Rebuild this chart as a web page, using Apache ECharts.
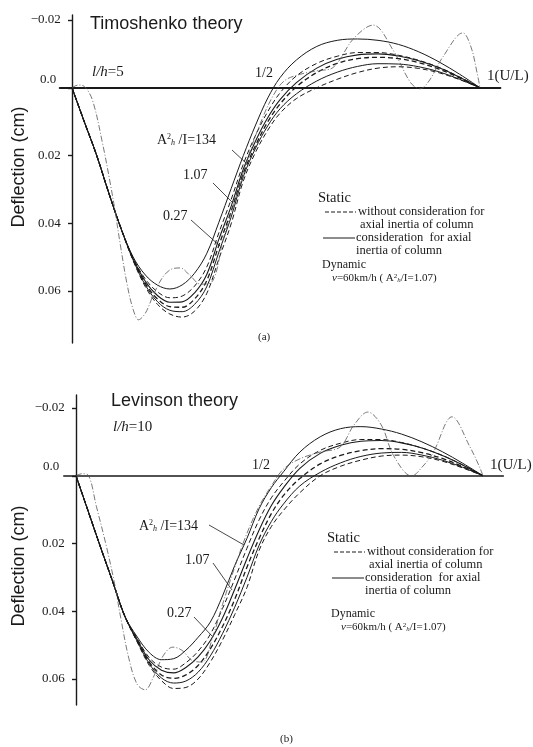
<!DOCTYPE html>
<html><head><meta charset="utf-8">
<script src="https://cdn.jsdelivr.net/npm/echarts@6/dist/echarts.min.js"></script>
<style>html,body{margin:0;padding:0;background:#fff}#c{width:533px;height:747px}</style>
</head><body><div id="c"></div><script>
// ---------- DATA ----------
const xStatic = [0,0.03,0.06,0.09,0.12,0.15,0.18,0.21,0.24,0.27,0.30,0.33,0.36,0.39,0.42,0.45,0.48,0.51,0.55,0.60,0.65,0.70,0.75,0.80,0.85,0.90,0.95,1.0];
const yTicks = [-0.02, 0, 0.02, 0.04, 0.06];

// (a) Timoshenko theory, l/h = 5
const timo134With    = [0,0.010,0.0198,0.031,0.0415, 0.0500,0.0553,0.0583,0.0594,0.0582,0.0548,0.0490,0.0397,0.0298,0.0200,0.0110,0.0030,-0.0030,-0.0082,-0.0122,-0.0140,-0.0144,-0.0140,-0.0128,-0.0106,-0.0076,-0.0040,0];
const timo134Without = [0,0.010,0.0198,0.031,0.0415, 0.0503,0.0565,0.0603,0.0620,0.0615,0.0586,0.0530,0.0428,0.0330,0.0225,0.0140,0.0070,0.0015,-0.0035,-0.0072,-0.0093,-0.0104,-0.0104,-0.0096,-0.0081,-0.0060,-0.0032,0];
const timo107With    = [0,0.010,0.0198,0.031,0.0415, 0.0505,0.0572,0.0614,0.0633,0.0632,0.0606,0.0552,0.0447,0.0350,0.0240,0.0157,0.0088,0.0035,-0.0015,-0.0058,-0.0084,-0.0097,-0.0100,-0.0094,-0.0080,-0.0059,-0.0031,0];
const timo107Without = [0,0.010,0.0198,0.031,0.0415, 0.0507,0.0578,0.0624,0.0646,0.0648,0.0624,0.0570,0.0465,0.0365,0.0252,0.0170,0.0100,0.0048,-0.0003,-0.0045,-0.0072,-0.0086,-0.0090,-0.0086,-0.0074,-0.0055,-0.0029,0];
const timo027With    = [0,0.010,0.0198,0.031,0.0415, 0.0509,0.0583,0.0632,0.0657,0.0661,0.0640,0.0588,0.0485,0.0382,0.0262,0.0178,0.0112,0.0062,0.0018,-0.0020,-0.0046,-0.0063,-0.0071,-0.0070,-0.0062,-0.0047,-0.0025,0];
const timo027Without = [0,0.010,0.0198,0.031,0.0415, 0.0511,0.0588,0.0640,0.0668,0.0677,0.0660,0.0608,0.0505,0.0402,0.0275,0.0190,0.0125,0.0075,0.0032,0.0000,-0.0025,-0.0045,-0.0058,-0.0062,-0.0057,-0.0044,-0.0024,0];
const timoDynX = [0,0.015,0.03,0.05,0.075,0.095,0.105,0.118,0.135,0.15,0.163,0.18,0.2,0.225,0.25,0.265,0.29,0.315,0.345,0.37,0.4,0.43,0.46,0.49,0.52,0.56,0.6,0.64,0.69,0.738,0.787,0.83,0.853,0.875,0.909,0.958,0.978,0.993,1];
const timoDynY = [0,-0.0008,-0.0004,0.0036,0.0165,0.029,0.036,0.046,0.058,0.0655,0.0685,0.0665,0.061,0.0555,0.0533,0.0532,0.0555,0.058,0.057,0.045,0.033,0.021,0.011,0.003,-0.002,-0.004,-0.005,-0.006,-0.0145,-0.0185,-0.0111,-0.0015,0.0003,-0.002,-0.0091,-0.0162,-0.012,-0.0043,0];

// (b) Levinson theory, l/h = 10
const lev134With    = [0,0.0105,0.021,0.0312,0.0415, 0.0475,0.0522,0.0543,0.0540,0.0515,0.0477,0.0432,0.0355,0.0265,0.0185,0.0097,0.0035,-0.0012,-0.0070,-0.0115,-0.0139,-0.0145,-0.0138,-0.0123,-0.0100,-0.0071,-0.0037,0];
const lev134Without = [0,0.0105,0.021,0.0312,0.0415, 0.0480,0.0537,0.0565,0.0571,0.0552,0.0518,0.0468,0.0392,0.0305,0.0214,0.0130,0.0065,0.0018,-0.0035,-0.0075,-0.0096,-0.0107,-0.0107,-0.0098,-0.0082,-0.0060,-0.0032,0];
const lev107With    = [0,0.0105,0.021,0.0312,0.0415, 0.0483,0.0544,0.0574,0.0582,0.0566,0.0535,0.0487,0.0420,0.0335,0.0245,0.0160,0.0088,0.0035,-0.0022,-0.0066,-0.0090,-0.0102,-0.0104,-0.0097,-0.0082,-0.0060,-0.0032,0];
const lev107Without = [0,0.0105,0.021,0.0312,0.0415, 0.0486,0.0550,0.0588,0.0598,0.0588,0.0560,0.0511,0.0445,0.0365,0.0270,0.0185,0.0112,0.0058,0.0008,-0.0035,-0.0060,-0.0074,-0.0080,-0.0078,-0.0068,-0.0051,-0.0027,0];
const lev027With    = [0,0.0105,0.021,0.0312,0.0415, 0.0488,0.0555,0.0597,0.0612,0.0606,0.0580,0.0532,0.0466,0.0388,0.0300,0.0205,0.0135,0.0083,0.0030,-0.0010,-0.0038,-0.0057,-0.0067,-0.0069,-0.0061,-0.0046,-0.0025,0];
const lev027Without = [0,0.0105,0.021,0.0312,0.0415, 0.0490,0.0560,0.0605,0.0628,0.0625,0.0600,0.0550,0.0485,0.0410,0.0330,0.0220,0.0150,0.0102,0.0050,0.0000,-0.0028,-0.0046,-0.0058,-0.0061,-0.0056,-0.0043,-0.0023,0];
const levDynX = [0,0.015,0.03,0.05,0.075,0.095,0.11,0.13,0.15,0.17,0.19,0.215,0.238,0.26,0.285,0.31,0.335,0.36,0.39,0.42,0.45,0.48,0.51,0.55,0.6,0.649,0.683,0.717,0.75,0.78,0.825,0.85,0.877,0.924,0.968,0.99,1];
const levDynY = [0,-0.0006,-0.0002,0.009,0.021,0.032,0.042,0.054,0.0615,0.0632,0.0595,0.053,0.0506,0.0515,0.0545,0.055,0.048,0.038,0.027,0.017,0.009,0.003,-0.002,-0.005,-0.007,-0.0085,-0.015,-0.0188,-0.015,-0.006,0.0001,-0.0025,-0.0067,-0.0174,-0.0085,-0.003,0];

// ---------- BUILD ----------
const pairs = (xs, ys) => xs.map((x, i) => [x, ys[i]]);
const SERIF = '"Liberation Serif","DejaVu Serif",serif';
const SANS = '"Liberation Sans","DejaVu Sans",sans-serif';
const INK = '#1a1a1a';

function staticSeries(ys, dashed, xi, yi, w) {
  return { type: 'line', xAxisIndex: xi, yAxisIndex: yi, data: pairs(xStatic, ys),
    smooth: 0.35, showSymbol: false, silent: true,
    lineStyle: { color: INK, width: w, type: dashed ? [5, 3] : 'solid' } };
}
function dynSeries(xs, ys, xi, yi) {
  return { type: 'line', xAxisIndex: xi, yAxisIndex: yi, data: pairs(xs, ys),
    smooth: 0.35, showSymbol: false, silent: true,
    lineStyle: { color: '#555', width: 0.8, type: [6, 2, 1, 2] } };
}

const fmt = v => v < 0 ? '\u22120.02' : v.toFixed(2);
function yAxes(grid, min, max) {
  const base = { type: 'value', gridIndex: grid, inverse: true, min: min, max: max,
    splitLine: { show: false } };
  return [
    Object.assign({}, base, {
      axisLine: { show: true, onZero: true, onZeroAxisIndex: grid, lineStyle: { color: INK, width: 1.4 } },
      axisTick: { show: true, length: 4, customValues: yTicks, lineStyle: { color: INK, width: 1.2 } },
      axisLabel: { show: true, customValues: yTicks.filter(v => v !== 0), formatter: fmt,
        fontFamily: SERIF, fontSize: 13, color: INK, margin: -1 }
    }),
    Object.assign({}, base, {
      axisLine: { show: false, onZero: true, onZeroAxisIndex: grid },
      axisTick: { show: true, inside: true, length: 4, customValues: yTicks, lineStyle: { color: INK, width: 1.2 } },
      axisLabel: { show: false }
    })
  ];
}

const T = (text, x, y, size, extra) => Object.assign({ type: 'text', silent: true,
  style: Object.assign({ text: text, x: x, y: y, fontFamily: SERIF, fontSize: size, fill: INK,
    align: 'left', verticalAlign: 'middle' }, extra || {}) });
const L = (x1, y1, x2, y2, dash, w) => ({ type: 'line', silent: true,
  shape: { x1: x1, y1: y1, x2: x2, y2: y2 },
  style: { stroke: INK, lineWidth: w || 0.8, lineDash: dash || null } });
const mkArich = sz => ({ s: { fontSize: sz, verticalAlign: 'top', fontFamily: SERIF }, h: { fontSize: sz, fontStyle: 'italic', verticalAlign: 'bottom', fontFamily: SERIF } });
const Irich = { i: { fontStyle: 'italic', fontFamily: SERIF, fontSize: 11 } };

function panelText(o) {
  const g = [];
  g.push(T(o.title, o.titleX, o.titleY, 18, { fontFamily: SANS }));
  g.push(T('{i|l/h}=' + o.lh, o.lhX, o.lhY, 15, { rich: { i: { fontStyle: 'italic', fontFamily: SERIF, fontSize: 15 } } }));
  g.push(T('1/2', o.halfX, o.halfY, 14));
  g.push(T('1(U/L)', o.endX, o.endY, 15));
  g.push(T('0.0', o.zeroLX, o.zeroLY, 13));
  g.push(T('A{s|2}{h|h} /I=134', o.a1[0], o.a1[1], 14, { rich: mkArich(8) }));
  g.push(T('1.07', o.a2[0], o.a2[1], 14));
  g.push(T('0.27', o.a3[0], o.a3[1], 14));
  o.leaders.forEach(l => g.push(L(l[0], l[1], l[2], l[3])));
  const lg = o.legend;
  g.push(T('Static', lg.x, lg.y, 14.5));
  g.push(L(lg.x + 7, lg.y + 14, lg.x + 38, lg.y + 14, [4, 2], 1));
  g.push(T('without consideration for', lg.x + 40, lg.y + 14, 12.5));
  g.push(T('axial inertia of column', lg.x + 42, lg.y + 27, 12.5));
  g.push(L(lg.x + 5, lg.y + 40, lg.x + 37, lg.y + 40, null, 1));
  g.push(T('consideration  for axial', lg.x + 38, lg.y + 40, 12.5));
  g.push(T('inertia of column', lg.x + 38, lg.y + 53, 12.5));
  g.push(T('Dynamic', lg.x + 4, lg.y + lg.dynOff, 12));
  g.push(T('{i|v}=60km/h ( A{s|2}{h|h}/I=1.07)', lg.x + 14, lg.y + lg.dynOff + 13, 11,
    { rich: Object.assign({}, mkArich(7), Irich) }));
  g.push(T(o.cap, o.capX, o.capY, 11));
  g.push({ type: 'text', silent: true, x: 19, y: o.ylabY, rotation: Math.PI / 2,
    style: { text: 'Deflection (cm)', x: 0, y: 0, fontFamily: SANS, fontSize: 18, fill: INK,
      align: 'center', verticalAlign: 'middle' } });
  return g;
}

const graphics = [].concat(
  panelText({ title: 'Timoshenko theory', titleX: 90, titleY: 24, lh: '5', lhX: 92, lhY: 72,
    halfX: 255, halfY: 73, endX: 487, endY: 76, zeroLX: 40, zeroLY: 80,
    a1: [157, 140], a2: [183, 175], a3: [163, 216],
    leaders: [[232, 150, 246, 163], [213, 183, 233, 203], [191, 220, 220, 246]],
    legend: { x: 318, y: 198, dynOff: 67 }, cap: '(a)', capX: 258, capY: 337, ylabY: 167 }),
  panelText({ title: 'Levinson theory', titleX: 111, titleY: 401, lh: '10', lhX: 113, lhY: 427,
    halfX: 252, halfY: 465, endX: 490, endY: 465, zeroLX: 43, zeroLY: 467,
    a1: [139, 526], a2: [185, 560], a3: [167, 613],
    leaders: [[209, 525, 244, 545], [213, 563, 232, 590], [194, 617, 212, 636]],
    legend: { x: 327, y: 538, dynOff: 76 }, cap: '(b)', capX: 280, capY: 739, ylabY: 566 })
);

const xAxisBase = (grid, w) => ({ type: 'value', gridIndex: grid, min: -0.03, max: 1.05,
  axisLine: { show: true, onZero: true, lineStyle: { color: INK, width: w } },
  axisTick: { show: false }, axisLabel: { show: false }, splitLine: { show: false } });

const option = {
  animation: false,
  backgroundColor: '#fff',
  grid: [
    { left: 59.76, top: 15, width: 440.64, height: 328 },
    { left: 63.79, top: 395, width: 439.56, height: 310 }
  ],
  xAxis: [xAxisBase(0, 2), xAxisBase(1, 1.6)],
  yAxis: [].concat(yAxes(0, -0.02148, 0.07535), yAxes(1, -0.02384, 0.06768)),
  series: [
    staticSeries(timo134With, false, 0, 0, 1),
    staticSeries(timo134Without, true, 0, 0, 1),
    staticSeries(timo107With, false, 0, 0, 1.1),
    staticSeries(timo107Without, true, 0, 0, 1.3),
    staticSeries(timo027With, false, 0, 0, 1),
    staticSeries(timo027Without, true, 0, 0, 1),
    dynSeries(timoDynX, timoDynY, 0, 0),
    staticSeries(lev134With, false, 1, 2, 1),
    staticSeries(lev134Without, true, 1, 2, 1),
    staticSeries(lev107With, false, 1, 2, 1.1),
    staticSeries(lev107Without, true, 1, 2, 1.3),
    staticSeries(lev027With, false, 1, 2, 1),
    staticSeries(lev027Without, true, 1, 2, 1),
    dynSeries(levDynX, levDynY, 1, 2)
  ],
  graphic: graphics
};
const chart = echarts.init(document.getElementById('c'), null, { renderer: 'canvas' });
chart.setOption(option);
</script></body></html>
